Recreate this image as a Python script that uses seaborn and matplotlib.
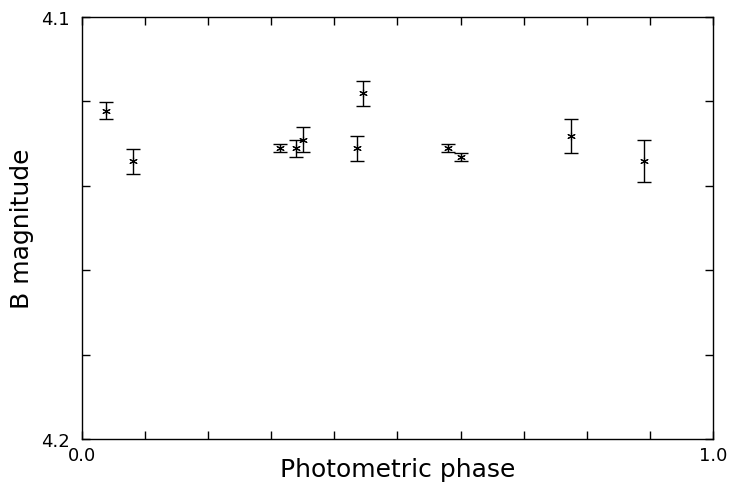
import matplotlib
matplotlib.use("Agg")
import matplotlib.pyplot as plt
import numpy as np
import pandas as pd
import seaborn as sns

# phase / B magnitude / error
phase = [0.038, 0.081, 0.313, 0.339, 0.350, 0.436, 0.446, 0.580, 0.601, 0.775, 0.890]
bmag = [4.1222, 4.1342, 4.1311, 4.1311, 4.1291, 4.1311, 4.1181, 4.1311, 4.1332, 4.1282, 4.1342]
berr = [0.002, 0.003, 0.001, 0.002, 0.003, 0.003, 0.003, 0.001, 0.001, 0.004, 0.005]

df = pd.DataFrame({"phase": phase, "bmag": bmag, "err": berr})

sns.set_style("ticks")
plt.rcParams["font.family"] = ["DejaVu Sans"]

fig = plt.figure(figsize=(7.31, 4.89), dpi=100)
ax = fig.add_axes([82 / 731, 1 - 440 / 489, 631 / 731, 422 / 489])

ax.errorbar(df["phase"], df["bmag"], yerr=df["err"], fmt="none",
            ecolor="black", elinewidth=1.0, capsize=5, capthick=1.0)
sns.scatterplot(data=df, x="phase", y="bmag", ax=ax, marker=(6, 2, 0),
                color="black", s=30, linewidth=0.8)

ax.set_xlim(0, 1)
ax.set_ylim(4.2, 4.1)
ax.set_xticks([0.0, 1.0])
ax.set_xticklabels(["0.0", "1.0"])
ax.set_xticks(np.arange(0.1, 1.0, 0.1), minor=True)
ax.set_yticks([4.1, 4.2])
ax.set_yticklabels(["4.1", "4.2"])
ax.set_yticks([4.12, 4.14, 4.16, 4.18], minor=True)

ax.tick_params(which="both", direction="in", length=6, width=1,
               top=True, right=True, labelsize=13, colors="black")
ax.tick_params(axis="y", pad=9)
ax.tick_params(axis="x", pad=5)
for s in ax.spines.values():
    s.set_visible(True)
    s.set_linewidth(1.0)
    s.set_color("black")

ax.set_xlabel("Photometric phase", fontsize=18, color="black", va="center")
ax.set_ylabel("B magnitude", fontsize=18, color="black", va="center")
ax.xaxis.set_label_coords(0.5, -30 / 422)
ax.yaxis.set_label_coords(-60 / 631, 0.5)

fig.savefig("out.png", dpi=100)
